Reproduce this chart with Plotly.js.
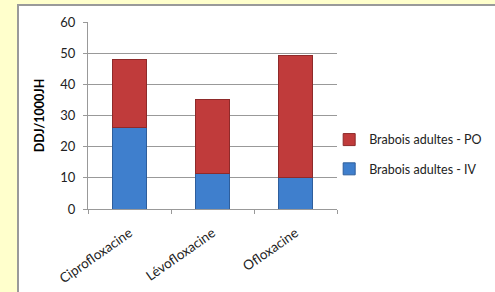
<!DOCTYPE html>
<html><head><meta charset="utf-8">
<script src="https://cdn.plot.ly/plotly-3.0.1.min.js"></script>
<style>
body{margin:0;padding:0;background:#FFFFCC;width:495px;height:292px;overflow:hidden;position:relative;}
#frame{position:absolute;left:17px;top:4px;width:490px;height:300px;background:#fff;border-left:2px solid #9a9a9a;border-top:2px solid #9a9a9a;}
#chart{position:absolute;left:0;top:0;width:495px;height:292px;}
</style></head>
<body>
<div id="frame"></div>
<div id="chart"></div>
<script>
const categories = ["Ciprofloxacine", "Lévofloxacine", "Ofloxacine"];
const seriesIV = [26, 11.5, 10];
const seriesPO = [22, 23.6, 39.3];
const nameIV = "Brabois adultes - IV";
const namePO = "Brabois adultes - PO";
const yTicks = [0, 10, 20, 30, 40, 50, 60];

const fam = "Lato, Open Sans, Liberation Sans, sans-serif";
const traces = [
  {type: "bar", name: nameIV, legendgroup: "iv", legendrank: 2, x: categories, y: seriesIV,
   marker: {color: "#3F7FCD", line: {color: "#2E5E9C", width: 1}}},
  {type: "bar", name: namePO, legendgroup: "po", legendrank: 1, x: categories, y: seriesPO,
   marker: {color: "#C03B3B", line: {color: "#8E2A2A", width: 1}}}
];
const layout = {
  width: 495, height: 292,
  paper_bgcolor: "rgba(0,0,0,0)", plot_bgcolor: "rgba(0,0,0,0)",
  margin: {l: 88, r: 158, t: 22, b: 83, autoexpand: false},
  barmode: "stack", bargap: 0.6,
  font: {family: fam, size: 12, color: "#222"},
  showlegend: true,
  legend: {xref: "container", yref: "container", x: 0.665, y: 0.471, xanchor: "left", yanchor: "middle",
           traceorder: "grouped",
           font: {family: fam, size: 12.5, color: "#222"},
           itemwidth: 30, tracegroupgap: 10, bgcolor: "rgba(0,0,0,0)"},
  xaxis: {tickangle: -35, tickson: "boundaries", ticks: "outside", ticklen: 4, tickcolor: "#999",
          showline: true, linecolor: "#999", linewidth: 1, showgrid: false, ticklabelstandoff: 10,
          tickfont: {family: fam, size: 13.5, color: "#222"}},
  yaxis: {range: [0, 60], tickvals: yTicks, ticks: "outside", ticklen: 4, tickcolor: "#999",
          showline: true, linecolor: "#999", linewidth: 1, gridcolor: "#999", gridwidth: 1,
          zeroline: false, ticklabelstandoff: 5,
          tickfont: {family: fam, size: 13, color: "#222"},
          title: {text: "DDJ/1000JH", standoff: 12,
                  font: {family: fam, size: 12.5, color: "#000", weight: "bold"}}}
};
Plotly.newPlot("chart", traces, layout, {displayModeBar: false, staticPlot: true});
</script>
</body></html>
